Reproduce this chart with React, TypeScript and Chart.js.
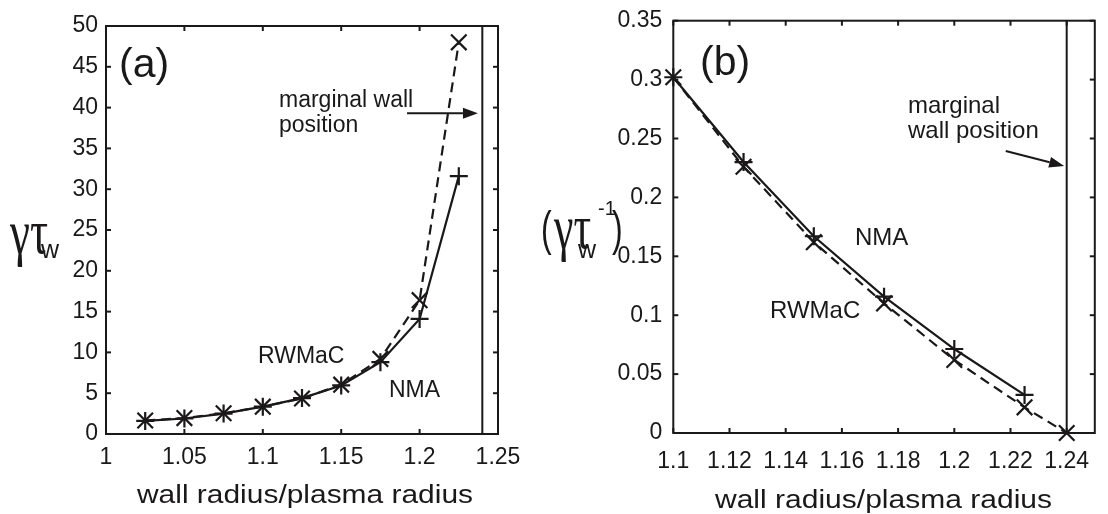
import React, { useEffect, useRef } from 'react';
import { Chart, registerables } from 'chart.js';

Chart.register(...registerables);

// ---------- data ----------
const aRadius = [1.025, 1.05, 1.075, 1.1, 1.125, 1.15, 1.175, 1.2, 1.225];
const aNMA = [1.6, 1.9, 2.5, 3.35, 4.4, 5.95, 8.8, 14.1, 31.6];
const aRWMaC = [1.65, 1.95, 2.55, 3.35, 4.35, 6.05, 9.2, 16.4, 48.0];
const aXTicks = [1, 1.05, 1.1, 1.15, 1.2, 1.25];
const aYTicks = [0, 5, 10, 15, 20, 25, 30, 35, 40, 45, 50];

const bRadiusNMA = [1.1, 1.125, 1.15, 1.175, 1.2, 1.225];
const bNMA = [0.302, 0.23, 0.167, 0.1157, 0.0713, 0.0323];
const bRadiusRWMaC = [1.1, 1.125, 1.15, 1.175, 1.2, 1.225, 1.24];
const bRWMaC = [0.302, 0.226, 0.162, 0.11, 0.062, 0.0218, 0];
const bXTicks = [1.1, 1.12, 1.14, 1.16, 1.18, 1.2, 1.22, 1.24];
const bYTicks = [0, 0.05, 0.1, 0.15, 0.2, 0.25, 0.3, 0.35];

const wallPosition = 1.24;

// ---------- style ----------
const INK = '#1a1819';
const SANS = '"Liberation Sans", Arial, sans-serif';
const SERIF = '"Liberation Serif", "Times New Roman", serif';

type Label = { text: string; x: number; y: number; size: number; family?: string; width?: number; sy?: number };
type Arrow = { from: [number, number]; to: [number, number] };

const fmt = (v: any) => String(Number(Number(v).toFixed(4)));

function drawLabels(ctx: CanvasRenderingContext2D, labels: Label[]) {
  for (const l of labels) {
    ctx.save();
    ctx.font = `${l.size}px ${l.family ?? SANS}`;
    ctx.fillStyle = INK;
    ctx.textBaseline = 'alphabetic';
    ctx.textAlign = 'left';
    const w = ctx.measureText(l.text).width;
    const sx = l.width ? l.width / w : 1;
    ctx.translate(l.x, l.y);
    ctx.scale(sx, l.sy ?? 1);
    ctx.fillText(l.text, 0, 0);
    ctx.restore();
  }
}

function overlayPlugin(labels: Label[], arrows: Arrow[]) {
  return {
    id: 'overlay',
    afterDraw(chart: any) {
      const { ctx, chartArea: a, scales } = chart;
      const x = scales.x;
      const y = scales.y;
      ctx.save();
      ctx.strokeStyle = INK;
      ctx.lineWidth = 2;
      ctx.setLineDash([]);
      ctx.strokeRect(a.left, a.top, a.right - a.left, a.bottom - a.top);
      const seg = (x0: number, y0: number, x1: number, y1: number) => {
        ctx.beginPath();
        ctx.moveTo(x0, y0);
        ctx.lineTo(x1, y1);
        ctx.stroke();
      };
      const T = 5;
      x.ticks.forEach((t: any) => {
        const px = x.getPixelForValue(t.value);
        seg(px, a.bottom, px, a.bottom - T);
        seg(px, a.top, px, a.top + T);
      });
      y.ticks.forEach((t: any) => {
        const py = y.getPixelForValue(t.value);
        seg(a.left, py, a.left + T, py);
        seg(a.right, py, a.right - T, py);
      });
      // arrows (in data units)
      ctx.fillStyle = INK;
      ctx.lineWidth = 2;
      for (const ar of arrows) {
        const x0 = x.getPixelForValue(ar.from[0]);
        const y0 = y.getPixelForValue(ar.from[1]);
        const x1 = x.getPixelForValue(ar.to[0]);
        const y1 = y.getPixelForValue(ar.to[1]);
        const ang = Math.atan2(y1 - y0, x1 - x0);
        const L = 15;
        const H = 5.5;
        const bx = x1 - L * Math.cos(ang);
        const by = y1 - L * Math.sin(ang);
        seg(x0, y0, bx, by);
        ctx.beginPath();
        ctx.moveTo(x1, y1);
        ctx.lineTo(bx + H * Math.sin(ang), by - H * Math.cos(ang));
        ctx.lineTo(bx - H * Math.sin(ang), by + H * Math.cos(ang));
        ctx.closePath();
        ctx.fill();
      }
      ctx.restore();
      drawLabels(ctx, labels);
    },
  };
}

type PanelCfg = {
  datasets: any[];
  xMin: number; xMax: number; yMin: number; yMax: number;
  xTicks: number[]; yTicks: number[];
  padTop: number; padRight: number; yWidth: number; xHeight: number;
  xTickPad: number; yTickPad: number;
  labels: Label[]; arrows: Arrow[];
};

function buildConfig(c: PanelCfg): any {
  const tickFont = { family: SANS, size: 23 };
  return {
    type: 'line',
    data: { datasets: c.datasets },
    options: {
      responsive: false,
      animation: false,
      devicePixelRatio: 1,
      layout: { padding: { top: c.padTop, right: c.padRight, left: 0, bottom: 0 } },
      plugins: { legend: { display: false }, tooltip: { enabled: false }, title: { display: false } },
      scales: {
        x: {
          type: 'linear',
          min: c.xMin,
          max: c.xMax,
          grid: { display: false, drawTicks: false },
          border: { display: false },
          afterBuildTicks: (s: any) => { s.ticks = c.xTicks.map((v) => ({ value: v })); },
          afterFit: (s: any) => {
            s.height = c.xHeight;
            s.paddingLeft = 0; s.paddingRight = 0; s.paddingTop = 0; s.paddingBottom = 0;
          },
          ticks: { font: tickFont, color: INK, padding: c.xTickPad, maxRotation: 0, autoSkip: false, callback: fmt },
        },
        y: {
          type: 'linear',
          min: c.yMin,
          max: c.yMax,
          grid: { display: false, drawTicks: false },
          border: { display: false },
          afterBuildTicks: (s: any) => { s.ticks = c.yTicks.map((v) => ({ value: v })); },
          afterFit: (s: any) => {
            s.width = c.yWidth;
            s.paddingLeft = 0; s.paddingRight = 0; s.paddingTop = 0; s.paddingBottom = 0;
          },
          ticks: { font: tickFont, color: INK, padding: c.yTickPad, autoSkip: false, callback: fmt },
        },
      },
    },
    plugins: [overlayPlugin(c.labels, c.arrows)],
  };
}

const solid = (data: any[]) => ({
  data,
  borderColor: INK,
  borderWidth: 2.2,
  pointStyle: 'cross',
  pointRadius: 9,
  pointBorderWidth: 2.2,
  pointBorderColor: INK,
  pointBackgroundColor: INK,
  fill: false,
  tension: 0,
  clip: false,
});
const dashed = (data: any[]) => ({
  data,
  borderColor: INK,
  borderWidth: 2.2,
  borderDash: [10, 6],
  pointStyle: 'crossRot',
  pointRadius: 11,
  pointBorderWidth: 2.2,
  pointBorderColor: INK,
  pointBackgroundColor: INK,
  fill: false,
  tension: 0,
  clip: false,
});
const wall = (y0: number, y1: number) => ({
  data: [{ x: wallPosition, y: y0 }, { x: wallPosition, y: y1 }],
  borderColor: INK,
  borderWidth: 2,
  pointRadius: 0,
  fill: false,
  clip: false,
});

const B_OFF = 530;

const panelA = (): any =>
  buildConfig({
    datasets: [
      wall(0, 50),
      dashed(aRadius.map((x, i) => ({ x, y: aRWMaC[i] }))),
      solid(aRadius.map((x, i) => ({ x, y: aNMA[i] }))),
    ],
    xMin: 1, xMax: 1.25, yMin: 0, yMax: 50,
    xTicks: aXTicks, yTicks: aYTicks,
    padTop: 26, padRight: 56, yWidth: 106, xHeight: 80,
    xTickPad: 10, yTickPad: 8,
    labels: [
      { text: '(a)', x: 119, y: 77, size: 41 },
      { text: 'marginal wall', x: 279, y: 107, size: 23 },
      { text: 'position', x: 279, y: 132, size: 23 },
      { text: 'RWMaC', x: 258, y: 363, size: 23 },
      { text: 'NMA', x: 389, y: 397, size: 23 },
      { text: 'wall radius/plasma radius', x: 137, y: 503, size: 26, width: 336 },
      { text: 'γτ', x: 10, y: 253, size: 40, family: SERIF, width: 38, sy: 1.6 },
      { text: 'w', x: 41, y: 258, size: 25 },
    ],
    arrows: [{ from: [1.192, 39.3], to: [1.2372, 39.3] }],
  });

const panelB = (): any =>
  buildConfig({
    datasets: [
      wall(0, 0.35),
      dashed(bRadiusRWMaC.map((x, i) => ({ x, y: bRWMaC[i] }))),
      solid(bRadiusNMA.map((x, i) => ({ x, y: bNMA[i] }))),
    ],
    xMin: 1.1, xMax: 1.25, yMin: 0, yMax: 0.35,
    xTicks: bXTicks, yTicks: bYTicks,
    padTop: 20.7, padRight: 3, yWidth: 143.3, xHeight: 81,
    xTickPad: 15, yTickPad: 11,
    labels: [
      { text: '(b)', x: 700 - B_OFF, y: 75, size: 41 },
      { text: 'marginal', x: 908 - B_OFF, y: 113, size: 24 },
      { text: 'wall position', x: 908 - B_OFF, y: 138, size: 24 },
      { text: 'NMA', x: 855 - B_OFF, y: 245, size: 24 },
      { text: 'RWMaC', x: 770 - B_OFF, y: 318, size: 24 },
      { text: 'wall radius/plasma radius', x: 715 - B_OFF, y: 508, size: 26, width: 337 },
      { text: '(', x: 541 - B_OFF, y: 245, size: 32, sy: 1.5 },
      { text: 'γτ', x: 554 - B_OFF, y: 248, size: 40, family: SERIF, width: 37, sy: 1.6 },
      { text: 'w', x: 578 - B_OFF, y: 258, size: 25 },
      { text: ')', x: 612 - B_OFF, y: 245, size: 32, sy: 1.5 },
      { text: '-1', x: 598 - B_OFF, y: 215, size: 20 },
    ],
    arrows: [{ from: [1.2183, 0.2394], to: [1.2391, 0.2267] }],
  });

function Panel({ make, left, width }: { make: () => any; left: number; width: number }) {
  const ref = useRef<HTMLCanvasElement>(null);
  useEffect(() => {
    const chart = new Chart(ref.current as HTMLCanvasElement, make());
    return () => chart.destroy();
  }, []);
  return (
    <canvas
      ref={ref}
      width={width}
      height={514}
      style={{ position: 'absolute', left, top: 0, width, height: 514, display: 'block' }}
    />
  );
}

export default function App() {
  return (
    <div style={{ position: 'absolute', left: 0, top: 0, width: 1108, height: 514, background: '#fff' }}>
      <Panel make={panelA} left={0} width={554} />
      <Panel make={panelB} left={B_OFF} width={1108 - B_OFF} />
    </div>
  );
}
